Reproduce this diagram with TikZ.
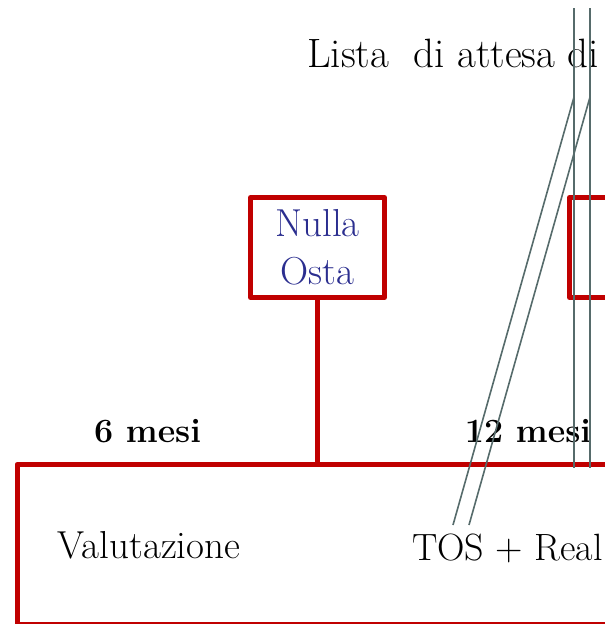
\documentclass[tikz,border=0pt]{standalone}
\usepackage{tikz}
\usepackage{amsmath}
\usepackage{color}
\definecolor{rossoscuro}{HTML}{C00000}
\definecolor{blunulla}{HTML}{2B2E8F}
\definecolor{grigio}{HTML}{566B6B}
\usetikzlibrary{positioning}
\tikzset{
	rosso/.style={draw=rossoscuro, line width=5pt, line join=round},
	scatola/.style={rosso, rectangle, minimum width=134pt, minimum height=100pt, inner sep=0pt, align=center},
	tratto/.style={draw=grigio, line width=1.6pt},
	testo/.style={font=\fontsize{38}{44}\selectfont, inner sep=0pt},
	mesi/.style={font=\fontsize{34}{40}\selectfont\bfseries, inner sep=0pt}
}
\newcommand{\coppiatratti}{\draw[tratto] (a1) -- (a2);
					\draw[tratto] (b1) -- (b2);
					\draw[tratto] (c1) -- (c2);
					\draw[tratto] (d1) -- (d2);}

\begin{document}
\begin{tikzpicture}[x=1pt,y=-1pt]
	\useasboundingbox (0,0) rectangle (605,624);
	\clip (0,0) rectangle (605,624);

	\node[testo, font=\fontsize{41}{46}\selectfont, anchor=base west] (lista) at (307,67) {Lista\ \ di attesa di};

	\node[scatola, text=blunulla, font=\fontsize{39}{48}\selectfont] (nulla) at (317.5,247.5) {Nulla\\Osta};
	\node[scatola] (destra) at (636.5,247.5) {};

	\node[rosso, rectangle, anchor=north west, minimum width=700pt, minimum height=159.5pt, inner sep=0pt] (fase) at (14.5,462) {};
	\draw[rosso] (nulla.south) -- (nulla.south |- fase.north);

	\node[mesi] (sei) at (147.5,431) {6 mesi};
	\node[mesi] (dodici) at (528,431) {12 mesi};

	\node[testo, font=\fontsize{39}{44}\selectfont] (valutazione) at (149,545) {Valutazione};
	\node[testo, anchor=base west] (tos) at (412,560) {TOS + Real};

	\coordinate (a1) at (574,8);
	\coordinate (a2) at (574,468);
	\coordinate (b1) at (590,8);
	\coordinate (b2) at (590,468);
	\coordinate (c1) at (574,97);
	\coordinate (c2) at (453,525);
	\coordinate (d1) at (590,97);
	\coordinate (d2) at (469,525);
	\coppiatratti

\end{tikzpicture}
\end{document}
